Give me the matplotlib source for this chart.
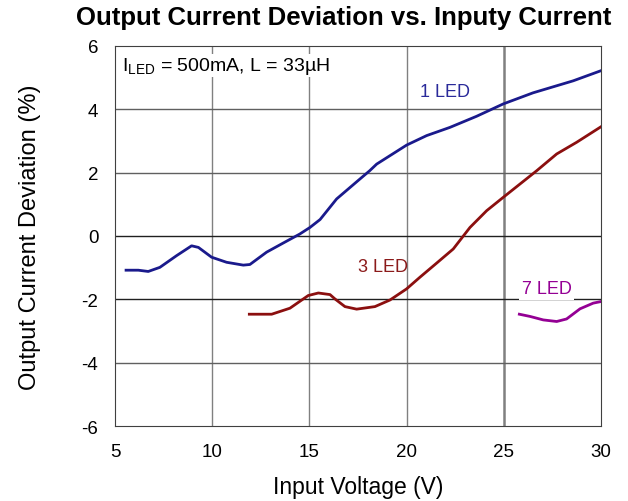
import matplotlib.pyplot as plt

plt.rcParams['font.family'] = ['Liberation Sans', 'DejaVu Sans']
plt.rcParams['axes.unicode_minus'] = False

# 1 LED
v1 = [5.57, 6.2, 6.71, 7.31, 8.17, 8.94, 9.29, 9.97, 10.74, 11.6, 11.94, 12.8,
      13.66, 14.5, 15.03, 15.55, 16.4, 17.6, 18.1, 18.46, 20.0, 21.03, 22.23,
      23.6, 24.97, 26.5, 28.57, 30.0]
d1 = [-1.08, -1.08, -1.12, -0.99, -0.62, -0.31, -0.36, -0.67, -0.83, -0.92,
      -0.9, -0.51, -0.22, 0.06, 0.27, 0.52, 1.17, 1.8, 2.06, 2.27, 2.87, 3.17,
      3.43, 3.78, 4.17, 4.52, 4.9, 5.22]

# 3 LED
v3 = [11.91, 13.06, 14.0, 14.94, 15.46, 16.06, 16.32, 16.83, 17.43, 18.37,
      19.15, 20.0, 20.69, 21.5, 22.4, 23.26, 24.12, 24.97, 25.83, 26.69,
      27.72, 28.75, 30.0]
d3 = [-2.47, -2.47, -2.28, -1.88, -1.8, -1.85, -1.99, -2.23, -2.31, -2.23,
      -2.02, -1.67, -1.3, -0.88, -0.41, 0.27, 0.8, 1.22, 1.64, 2.06, 2.59,
      2.96, 3.45]

# 7 LED
v7 = [25.8, 26.35, 27.03, 27.72, 28.23, 28.92, 29.6, 30.0]
d7 = [-2.47, -2.54, -2.65, -2.7, -2.62, -2.3, -2.12, -2.07]

xticks = [5, 10, 15, 20, 25, 30]
yticks = [-6, -4, -2, 0, 2, 4, 6]

fig = plt.figure(figsize=(6.28, 5.02), dpi=100)
ax = fig.add_axes([0.1831, 0.1494, 0.7739, 0.757])

for x in xticks[1:-1]:
    ax.axvline(x, color='#808080', lw=1.0 if x != 25 else 1.8, zorder=0)
for y in yticks[1:-1]:
    c = '#202020' if y in (0, -2) else '#606060'
    ax.axhline(y, color=c, lw=1.0, zorder=0)

ax.plot(v1, d1, color='#1a1a8c', lw=2)
ax.plot(v3, d3, color='#8b0f0f', lw=2)
ax.plot(v7, d7, color='#940094', lw=2)

ax.text(21.97, 4.55, '1 LED', color='#2a2a9a', fontsize=13, ha='center', va='center')
ax.text(18.8, -0.95, '3 LED', color='#8b1a1a', fontsize=13, ha='center', va='center')
ax.text(27.2, -1.67, '7 LED', color='#940094', fontsize=13, ha='center', va='center',
        bbox=dict(facecolor='white', edgecolor='none', pad=1.5))
ax.text(5.35, 5.38, r'I$_{\mathregular{LED}}$ = 500mA, L = 33µH', fontsize=14,
        ha='left', va='center', bbox=dict(facecolor='white', edgecolor='none', pad=1))

ax.set_xlim(5, 30)
ax.set_ylim(-6, 6)
ax.set_xticks(xticks)
ax.set_yticks(yticks)
ax.tick_params(length=0, labelsize=13.5, pad=12)
for s in ax.spines.values():
    s.set_color('#404040')

ax.set_xlabel('Input Voltage (V)', fontsize=16.5, labelpad=11)
ax.set_ylabel('Output Current Deviation (%)', fontsize=17, labelpad=29)
fig.text(0.547, 0.964, 'Output Current Deviation vs. Inputy Current',
         fontsize=18.5, fontweight='bold', ha='center', va='center')

fig.savefig('out.png', dpi=100)
